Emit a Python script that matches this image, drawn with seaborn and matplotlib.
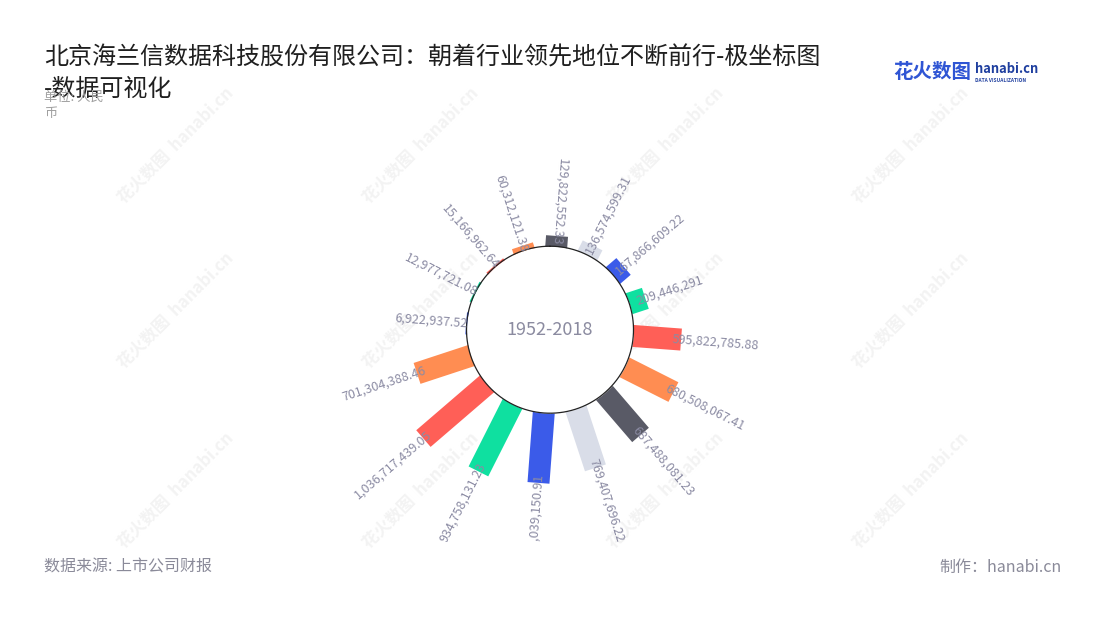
import numpy as np
import matplotlib
matplotlib.use("Agg")
import matplotlib.pyplot as plt
import seaborn as sns
from matplotlib.transforms import Bbox, TransformedBbox

# ---------------- data (chronological order, drawn clockwise) ----------------
periods = [f"P{i + 1}" for i in range(16)]
values = [6922937.52, 12977721.08, 15166962.64, 60312121.38,
          129822552.33, 136574599.31, 167866609.22, 209446291.00,
          595822785.88, 680508067.41, 687488081.23, 769407696.22,
          871039150.91, 934758131.23, 1036717439.05, 701304388.46]
center_label = "1952-2018"
title = "北京海兰信数据科技股份有限公司：朝着行业领先地位不断前行-极坐标图\n-数据可视化"
subtitle = "单位: 人民\n币"
source = "数据来源: 上市公司财报"
maker = "制作：hanabi.cn"

palette_hex = ["#3b5be9", "#0fe0a0", "#ff5f57", "#ff8d52", "#595a66", "#d9dde8"]

# ---------------- style ----------------
sns.set_theme(style="white")
plt.rcParams["font.family"] = ["Noto Sans CJK SC", "DejaVu Sans"]
colors = sns.color_palette(palette_hex, n_colors=len(palette_hex))

W, H = 1100, 620
fig = plt.figure(figsize=(W / 100, H / 100), dpi=100)
fig.patch.set_facecolor("white")

# watermarks
for wy in [145, 310, 490]:
    for wx in [175, 420, 665, 910]:
        fig.text(wx / W, 1 - wy / H, "花火数图  hanabi.cn", rotation=45,
                 ha="center", va="center", fontsize=12, color="#f3f3f3",
                 fontweight="bold", zorder=-5)

# polar axes geometry (pixels)
CX, CY = 550, 329.7
R_PX = 204.25
INNER_PX = 83.5
rmax = 1.5e9
ax = fig.add_axes([(CX - R_PX) / W, 1 - (CY + R_PX) / H, 2 * R_PX / W, 2 * R_PX / H],
                  projection="polar")
ax.set_theta_zero_location("N")
ax.set_theta_direction(-1)
k = (R_PX - INNER_PX) / rmax
off = INNER_PX / k
ax.set_ylim(-off, rmax)
ax.set_axis_off()


def px_to_r(p):
    return p / k - off


n = len(values)
step = 360.0 / n
start = -85.7
half_w = 11.0
label_color = "#8b8ba3"
clip = TransformedBbox(Bbox([[0, (H - 542) / H], [1, 1]]), fig.transFigure)

for i, v in enumerate(values):
    cw = start + i * step
    phi = np.deg2rad(cw)
    s0, s1 = INNER_PX - 15, INNER_PX + v * k
    ss = [s0, s1, s1, s0]
    sides = [-1, -1, 1, 1]
    th = [phi + sd * np.arctan2(half_w, s) for s, sd in zip(ss, sides)]
    rr = [px_to_r(np.hypot(s, half_w)) for s in ss]
    ax.fill(th, rr, color=colors[i % len(colors)], lw=0, zorder=2)

    lab = f"{v:,.2f}"
    if lab.endswith(".00"):
        lab = lab[:-3]
    math_ang = (90 - cw + 180) % 360 - 180
    s_a = max(s1 - 9, INNER_PX - 1)
    if -90 <= math_ang < 80:
        rot, ha = math_ang, "left"
    else:
        rot, ha = (math_ang + 360) % 360 - 180, "right"
    t = ax.text(phi, px_to_r(s_a), lab, rotation=rot, rotation_mode="anchor",
                ha=ha, va="center", fontsize=9, color=label_color, zorder=6)
    t.set_clip_path(None)
    t.set_clip_box(clip)
    t.set_clip_on(True)

# inner white circle
tt = np.linspace(0, 2 * np.pi, 400)
ax.fill_between(tt, -off, 0, color="white", lw=0, zorder=3)
ax.plot(tt, np.zeros_like(tt), color="#222222", lw=0.9, zorder=4)
ax.text(0, -off, center_label, ha="center", va="center", fontsize=13,
        color="#8b8ba0", zorder=5)

# titles and notes
fig.text(44 / W, 1 - 44 / H, title, ha="left", va="top", fontsize=17.3,
         color="#1f1f1f", linespacing=1.3)
fig.text(44 / W, 1 - 91 / H, subtitle, ha="left", va="top", fontsize=9.5,
         color="#a0a0a0", linespacing=1.35)
fig.text(44 / W, 1 - 567 / H, source, ha="left", va="center", fontsize=11.5,
         color="#8a8a99")
fig.text(1062 / W, 1 - 567 / H, maker, ha="right", va="center", fontsize=11.5,
         color="#8a8a99")

# logo
fig.text(893 / W, 1 - 72 / H, "花火数图", ha="left", va="center", fontsize=14,
         fontweight="bold", color="#2f55d4")
fig.text(975 / W, 1 - 69 / H, "hanabi.cn", ha="left", va="center", fontsize=9.3,
         fontweight="bold", color="#1f3f9f")
fig.text(975 / W, 1 - 80 / H, "DATA VISUALIZATION", ha="left", va="center",
         fontsize=3.5, fontweight="bold", color="#1f3f9f")

fig.savefig("out.png", dpi=100, facecolor="white")
